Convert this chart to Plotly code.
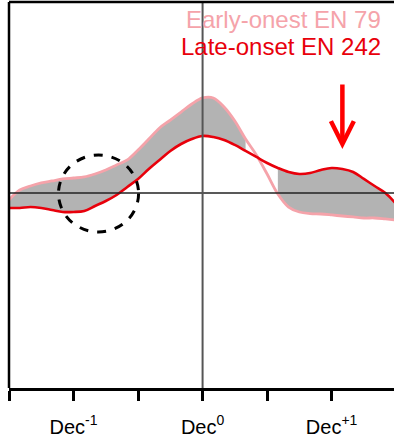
import plotly.graph_objects as go

# months relative to December of onset year (Dec0 = 0)
months = list(range(-18, 19))

early_onset = [-0.073, 0.031, 0.073, 0.105, 0.126, 0.147, 0.157, 0.168, 0.199, 0.241,
               0.293, 0.346, 0.450, 0.565, 0.681, 0.764, 0.848, 0.932, 0.995, 0.995,
               0.901, 0.754, 0.565, 0.398, 0.199, -0.010, -0.147, -0.199, -0.215, -0.220,
               -0.230, -0.241, -0.251, -0.262, -0.262, -0.272, -0.283]
late_onset = [-0.157, -0.157, -0.147, -0.157, -0.178, -0.199, -0.199, -0.188, -0.136, -0.084,
              -0.021, 0.063, 0.147, 0.251, 0.346, 0.440, 0.513, 0.565, 0.597, 0.586,
              0.555, 0.503, 0.440, 0.377, 0.314, 0.262, 0.220, 0.199, 0.209, 0.241,
              0.262, 0.251, 0.220, 0.147, 0.073, 0.0, -0.115]

# shaded (significant difference) segments, month ranges
shade_segments = [(-18, 4), (7, 18)]

tick_vals = [-18, -12, -6, 0, 6, 12, 18]
tick_text = ["", "Dec<sup>-1</sup>", "", "Dec<sup>0</sup>", "", "Dec<sup>+1</sup>", ""]

legend_early = "Early-onest EN 79"
legend_late = "Late-onset EN 242"

# annotation anchors (month, value)
arrow_tip = (13.0, 0.46)
circle_box = (-13.4, -5.95, -0.408, 0.398)

PINK = "#f5a3aa"
RED = "#e8000b"
GRAY = "#b3b3b3"
FONT = "Liberation Sans, Arial, Helvetica"

fig = go.Figure()

for a, b in shade_segments:
    idx = [i for i, m in enumerate(months) if a <= m <= b]
    xs = [months[i] for i in idx]
    fig.add_trace(go.Scatter(x=xs, y=[late_onset[i] for i in idx], mode="lines",
                             line=dict(width=0, shape="spline"), hoverinfo="skip",
                             showlegend=False))
    fig.add_trace(go.Scatter(x=xs, y=[early_onset[i] for i in idx], mode="lines",
                             line=dict(width=0, shape="spline"), fill="tonexty",
                             fillcolor=GRAY, hoverinfo="skip", showlegend=False))

fig.add_trace(go.Scatter(x=months, y=early_onset, mode="lines",
                         line=dict(color=PINK, width=2.8, shape="spline"),
                         showlegend=False))
fig.add_trace(go.Scatter(x=months, y=late_onset, mode="lines",
                         line=dict(color=RED, width=2.6, shape="spline"),
                         showlegend=False))

# reference lines
fig.add_shape(type="line", xref="paper", yref="y", x0=0, x1=1, y0=0, y1=0,
              line=dict(color="#222222", width=1.5), layer="above")
fig.add_shape(type="line", xref="x", yref="paper", x0=0, x1=0, y0=0, y1=1,
              line=dict(color="#555555", width=2), layer="above")
# frame: left and top
fig.add_shape(type="line", xref="paper", yref="paper", x0=0, x1=0, y0=0, y1=1,
              line=dict(color="black", width=2.5), layer="above")
fig.add_shape(type="line", xref="paper", yref="paper", x0=0, x1=1, y0=1, y1=1,
              line=dict(color="black", width=2.5), layer="above")

# dashed circle highlight
fig.add_shape(type="circle", xref="x", yref="y", x0=circle_box[0], x1=circle_box[1],
              y0=circle_box[2], y1=circle_box[3],
              line=dict(color="black", width=3, dash="dash"), layer="above")

# red arrow
fig.add_annotation(x=arrow_tip[0], y=arrow_tip[1], xref="x", yref="y", ax=0, ay=-66,
                   text="", showarrow=True, arrowhead=5, arrowsize=1.0, arrowwidth=4.5,
                   arrowcolor="#ff0000")

fig.add_annotation(x=0.972, y=0.955, xref="paper", yref="paper", text=legend_early,
                   showarrow=False, xanchor="right", yanchor="middle",
                   font=dict(family=FONT, size=24, color=PINK))
fig.add_annotation(x=0.972, y=0.885, xref="paper", yref="paper", text=legend_late,
                   showarrow=False, xanchor="right", yanchor="middle",
                   font=dict(family=FONT, size=24, color=RED))

fig.update_xaxes(range=[-18, 17.8], tickvals=tick_vals, ticktext=tick_text,
                 ticks="outside", ticklen=10, tickwidth=2.5, tickcolor="black",
                 ticklabelstandoff=9,
                 showline=True, linecolor="black", linewidth=2.5, showgrid=False,
                 zeroline=False, tickfont=dict(family=FONT, size=20, color="black"))
fig.update_yaxes(range=[-2.042, 2.0], showticklabels=False, ticks="", showgrid=False,
                 zeroline=False, showline=False)

fig.update_layout(width=394, height=447, margin=dict(l=9, r=0, t=2, b=59),
                  plot_bgcolor="white", paper_bgcolor="white")

fig.write_html("out.html")
